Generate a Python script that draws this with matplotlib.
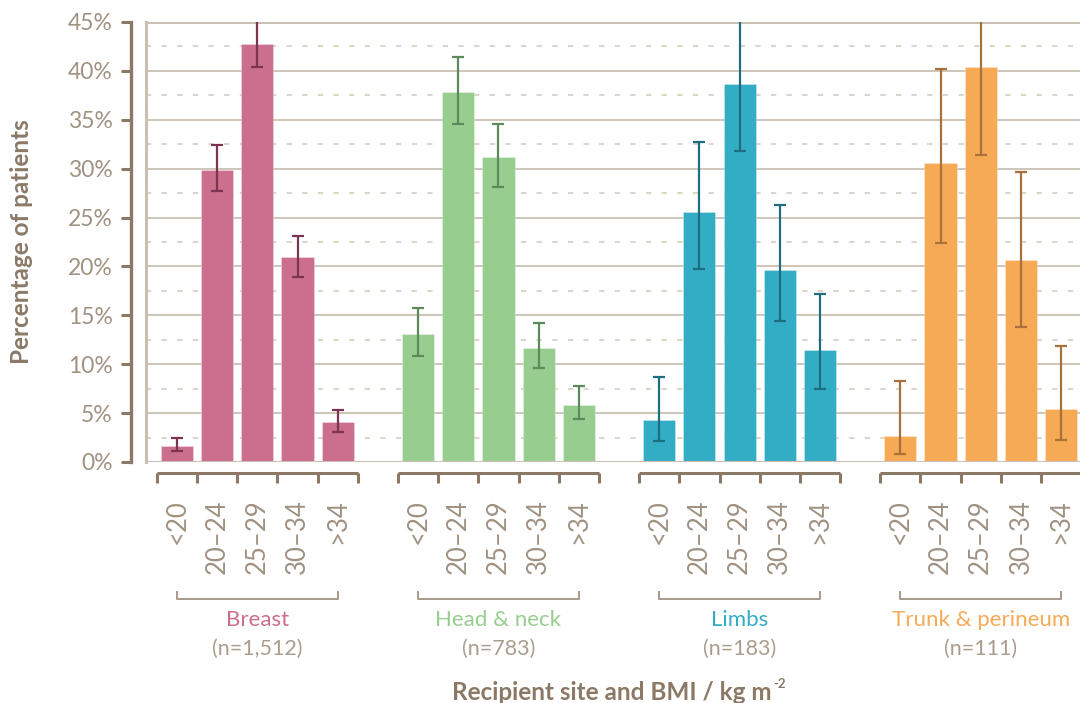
import numpy as np
import matplotlib
matplotlib.use("Agg")
import matplotlib.pyplot as plt
from matplotlib import transforms

# categories
bmi_bands = ["<20", "20\u201324", "25\u201329", "30\u201334", ">34"]
sites = ["Breast", "Head & neck", "Limbs", "Trunk & perineum"]
site_n = ["(n=1,512)", "(n=783)", "(n=183)", "(n=111)"]

# percentage of patients per BMI band, with 95% CI limits
breast = [1.6, 29.9, 42.8, 21.0, 4.1]
breast_lo = [1.1, 27.7, 40.4, 18.9, 3.1]
breast_hi = [2.5, 32.4, 45.3, 23.1, 5.3]

head_neck = [13.1, 37.8, 31.2, 11.7, 5.8]
head_neck_lo = [10.8, 34.6, 28.1, 9.6, 4.4]
head_neck_hi = [15.7, 41.4, 34.6, 14.2, 7.8]

limbs = [4.3, 25.6, 38.7, 19.6, 11.5]
limbs_lo = [2.1, 19.7, 31.8, 14.4, 7.5]
limbs_hi = [8.7, 32.7, 46.0, 26.3, 17.2]

trunk = [2.7, 30.6, 40.4, 20.7, 5.4]
trunk_lo = [0.8, 22.4, 31.4, 13.8, 2.2]
trunk_hi = [8.3, 40.2, 49.8, 29.7, 11.9]

bar_colors = ["#cc6e8e", "#98cd90", "#33adc6", "#f7aa55"]
err_colors = ["#7b3553", "#5c8a5c", "#1d6f80", "#a8713a"]

values = [breast, head_neck, limbs, trunk]
lows = [breast_lo, head_neck_lo, limbs_lo, trunk_lo]
highs = [breast_hi, head_neck_hi, limbs_hi, trunk_hi]

brown = "#8b7966"
label_grey = "#a09282"
frame = "#c9bfb3"

plt.rcParams["font.family"] = ["Lato", "DejaVu Sans"]

W, H = 1080, 703
fig = plt.figure(figsize=(W / 100, H / 100), dpi=100)
ax = fig.add_axes([146 / W, 1 - 462 / H, (1080 - 146) / W, (462 - 22) / H])

# grid: solid every 5%, dashed halfway between
for y in np.arange(5, 45, 5):
    ax.axhline(y, color="#cfc6bb", lw=1.4, zorder=1)
for y in np.arange(2.5, 45, 5):
    ax.axhline(y, color="#ddd5ca", lw=1.5, dashes=(2.5, 5), zorder=1)
ax.axhline(45, color=frame, lw=2.2, zorder=1)
ax.axhline(0, color=frame, lw=2.2, zorder=4)
ax.plot([0, 0], [0, 1], transform=ax.transAxes, color=frame, lw=2.2, clip_on=False, zorder=4)

group_pos = []
for g in range(len(sites)):
    pos = np.arange(5) + 6 * g
    group_pos.append(pos)
    ax.bar(pos, values[g], width=0.8, color=bar_colors[g], edgecolor="#ffffff55",
           linewidth=0.6, zorder=2)
    v = np.array(values[g])
    yerr = [v - np.array(lows[g]), np.array(highs[g]) - v]
    ax.errorbar(pos, v, yerr=yerr, fmt="none", ecolor=err_colors[g], elinewidth=1.6,
                capsize=4.2, capthick=1.6, zorder=3)

ax.set_xlim(-0.77, 22.47)
ax.set_ylim(0, 45)

for s in ["top", "right", "bottom"]:
    ax.spines[s].set_visible(False)
ax.spines["left"].set_position(("outward", 11))
ax.spines["left"].set_color(brown)
ax.spines["left"].set_linewidth(2.4)
ax.set_yticks(np.arange(0, 46, 5))
ax.set_yticklabels([f"{t}%" for t in range(0, 46, 5)])
ax.tick_params(axis="y", length=7, width=2.2, color=brown, labelcolor=label_grey,
               labelsize=16.5, pad=6)
ax.set_xticks([])

# everything below the axis is placed in figure pixels vertically
tr = transforms.blended_transform_factory(ax.transData, fig.transFigure)


def fy(px):
    return 1 - px / H


for g in range(len(sites)):
    pos = group_pos[g]
    edges = np.arange(pos[0] - 0.5, pos[-1] + 0.51, 1.0)
    ax.plot([edges[0], edges[-1]], [fy(472.5)] * 2, transform=tr, color=brown,
            lw=2.2, clip_on=False, solid_capstyle="butt")
    for e in edges:
        ax.plot([e, e], [fy(472.5), fy(483)], transform=tr, color=brown, lw=2.2,
                clip_on=False, solid_capstyle="butt")
    for p, lab in zip(pos, bmi_bands):
        ax.text(p, fy(499), lab, transform=tr, rotation=90, ha="center", va="top",
                fontsize=18.5, color=label_grey)
    # group bracket
    ax.plot([pos[0], pos[0], pos[-1], pos[-1]],
            [fy(592), fy(599), fy(599), fy(592)], transform=tr, color="#a89a8a",
            lw=1.4, clip_on=False)
    mid = (pos[0] + pos[-1]) / 2
    ax.text(mid, fy(620), sites[g], transform=tr, ha="center", va="center",
            fontsize=16, color=bar_colors[g])
    ax.text(mid, fy(649), site_n[g], transform=tr, ha="center", va="center",
            fontsize=15.5, color="#aa9d8e")

# x label with a small superscript after it
xlab = fig.text(612 / W, fy(692), "Recipient site and BMI / kg m", ha="center",
                va="center", fontsize=17.5, fontweight="bold", color=brown)
fig.canvas.draw()
bb = xlab.get_window_extent()
fig.text((bb.x1 + 1) / W, fy(684), "-2", ha="left", va="center", fontsize=9.5,
         fontweight="bold", color=brown)

fig.text(22 / W, fy(242), "Percentage of patients", rotation=90, ha="center",
         va="center", fontsize=17.5, fontweight="bold", color=brown)

fig.savefig("out.png", dpi=100)
